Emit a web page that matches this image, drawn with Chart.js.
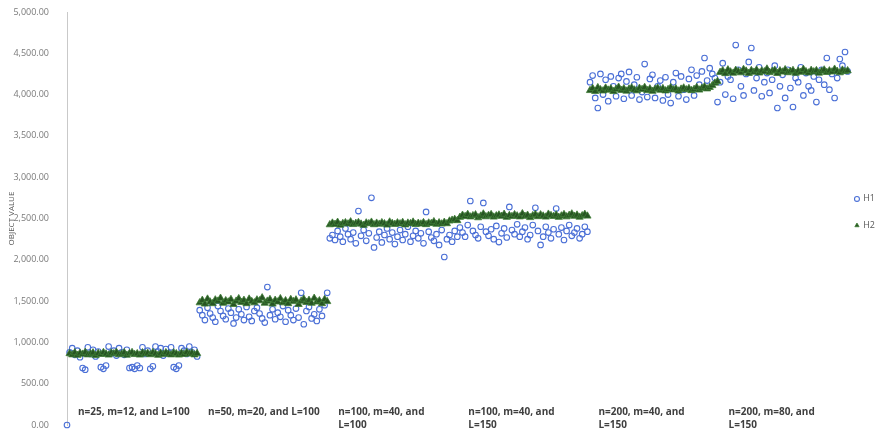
<!DOCTYPE html>
<html>
<head>
<meta charset="utf-8">
<title>Object value, H1 vs H2</title>
<script src="https://cdn.jsdelivr.net/npm/chart.js@4.4.0/dist/chart.umd.min.js"></script>
<style>
  html, body { margin: 0; padding: 0; background: #fff; }
  #wrap { width: 878px; height: 432px; position: relative; }
</style>
</head>
<body>
<div id="wrap"><canvas id="objChart"></canvas></div>
<script>
// Object value per run, two heuristics, six problem instances (50 runs each)
const instances = [
    ['n=25, m=12, and L=100'],
    ['n=50, m=20, and L=100'],
    ['n=100, m=40, and', 'L=100'],
    ['n=100, m=40, and', 'L=150'],
    ['n=200, m=40, and', 'L=150'],
    ['n=200, m=80, and', 'L=150']
];
const runsPerInstance = 50;

const yMin = 0;
const yMax = 5000;
const yStep = 500;

// H1 has one stray run at x = 0 with value 0
const h1First = 0;

const h1Inst1 = [880,930,850,900,820,690,670,940,860,910,830,890,700,680,720,950,870,900,840,930,
                 880,850,910,690,700,680,720,690,940,860,900,680,710,950,890,930,840,920,870,940,
                 700,680,720,930,900,860,950,880,910,830];
const h1Inst2 = [1390,1330,1270,1420,1350,1300,1250,1440,1380,1320,1280,1410,1360,1230,1300,1400,1340,1270,1430,1310,
                 1260,1380,1420,1350,1290,1240,1670,1330,1400,1280,1360,1310,1440,1250,1390,1330,1270,1410,1300,1600,
                 1220,1380,1430,1290,1340,1260,1400,1320,1450,1600];
const h1Inst3 = [2260,2300,2240,2350,2280,2220,2380,2310,2250,2330,2200,2590,2290,2360,2230,2320,2750,2150,2270,2340,
                 2210,2300,2380,2250,2330,2190,2280,2360,2240,2310,2400,2220,2290,2350,2260,2320,2200,2580,2340,2270,
                 2230,2310,2180,2360,2034,2250,2300,2220,2350,2280];
const h1Inst4 = [2390,2330,2280,2420,2712,2350,2300,2260,2400,2688,2340,2290,2370,2250,2410,2215,2320,2380,2270,2640,
                 2360,2310,2430,2280,2340,2390,2250,2300,2420,2630,2350,2180,2280,2400,2330,2260,2370,2620,2310,2390,
                 2240,2350,2420,2290,2330,2380,2260,2310,2400,2340];
const h1Inst5 = [4150,4230,3960,3838,4250,4000,4180,3920,4220,4100,3980,4200,4250,3950,4160,4274,3990,4120,4210,3940,
                 4030,4370,3970,4190,4240,3960,4100,4170,3930,4210,4000,3898,4150,4260,3980,4220,4060,3940,4190,4300,
                 3990,4230,4120,4280,4443,4170,4320,4250,4200,3910];
const h1Inst6 = [4150,4380,4000,4220,4180,3950,4600,4300,4100,3990,4250,4395,4564,4050,4200,4330,3980,4150,4260,4020,
                 4180,4350,3838,4100,4240,3960,4300,4080,3850,4200,4150,4330,3990,4260,4100,4050,4220,3910,4180,4300,
                 4120,4443,4060,4250,3959,4200,4431,4350,4516,4280];

const h2Inst1 = [865,850,875,845,870,858,880,850,862,874,842,868,855,878,860,848,872,863,880,852,
                 861,876,846,866,878,854,864,848,875,860,870,852,878,862,845,870,856,876,861,850,
                 874,864,848,870,855,880,860,872,850,866];
const h2Inst2 = [1480,1510,1465,1525,1490,1470,1515,1500,1535,1475,1505,1490,1520,1460,1500,1530,1485,1510,1470,1525,
                 1495,1480,1515,1505,1540,1475,1500,1520,1465,1510,1490,1530,1480,1505,1470,1520,1495,1515,1460,1500,
                 1525,1485,1510,1475,1535,1490,1505,1470,1520,1495];
const h2Inst3 = [2425,2445,2430,2455,2420,2440,2450,2435,2460,2428,2442,2452,2433,2418,2447,2438,2456,2426,2444,2432,
                 2450,2437,2422,2458,2441,2430,2448,2436,2453,2424,2445,2439,2457,2429,2443,2434,2451,2427,2446,2440,
                 2462,2431,2449,2435,2455,2438,2470,2480,2490,2475];
const h2Inst4 = [2515,2540,2525,2550,2520,2535,2545,2510,2530,2555,2522,2538,2548,2518,2533,2543,2528,2552,2515,2537,
                 2525,2547,2532,2520,2558,2527,2540,2512,2535,2550,2523,2545,2530,2518,2553,2536,2526,2544,2515,2532,
                 2549,2521,2539,2556,2528,2542,2517,2534,2551,2530];
const h2Inst5 = [4050,4075,4040,4085,4060,4045,4080,4055,4070,4038,4065,4090,4052,4072,4043,4068,4082,4057,4047,4077,
                 4063,4088,4050,4070,4041,4066,4079,4054,4073,4046,4062,4085,4058,4071,4044,4067,4081,4059,4074,4049,
                 4064,4087,4056,4078,4095,4070,4088,4110,4140,4160];
const h2Inst6 = [4270,4290,4255,4300,4275,4260,4295,4280,4265,4305,4285,4258,4292,4272,4298,4262,4287,4277,4310,4268,
                 4283,4296,4257,4289,4274,4302,4266,4281,4293,4259,4286,4271,4306,4278,4263,4294,4276,4291,4261,4284,
                 4299,4269,4288,4275,4308,4282,4265,4297,4279,4290];

const h1Blocks = [h1Inst1, h1Inst2, h1Inst3, h1Inst4, h1Inst5, h1Inst6];
const h2Blocks = [h2Inst1, h2Inst2, h2Inst3, h2Inst4, h2Inst5, h2Inst6];

// run number on x, value on y
function toPoints(blocks) {
    const pts = [];
    blocks.forEach((vals, g) => {
        vals.forEach((v, i) => pts.push({ x: g * runsPerInstance + i + 1, y: v }));
    });
    return pts;
}

const fmt = v => v.toLocaleString('en-US', { minimumFractionDigits: 2, maximumFractionDigits: 2 });

// instance captions sit just above the x = 0 line, under each block
const instanceLabels = {
    id: 'instanceLabels',
    afterDatasetsDraw(chart) {
        const { ctx, scales: { x, y } } = chart;
        ctx.save();
        ctx.font = 'bold 10px "Open Sans"';
        ctx.fillStyle = '#3f3f3f';
        ctx.textBaseline = 'middle';
        ctx.textAlign = 'left';
        instances.forEach((lines, g) => {
            const left = x.getPixelForValue(g * runsPerInstance) + 11;
            lines.forEach((line, k) => ctx.fillText(line, left, y.bottom - 13 + k * 13));
        });
        ctx.restore();
    }
};

const ctx = document.getElementById('objChart').getContext('2d');
const objChart = new Chart(ctx, {
    type: 'scatter',
    data: {
        datasets: [{
            label: 'H1',
            data: [{ x: 0, y: h1First }].concat(toPoints(h1Blocks)),
            pointStyle: 'circle',
            pointRadius: 2.8,
            borderWidth: 1.1,
            borderColor: '#4a6fd6',
            backgroundColor: 'rgba(0,0,0,0)',
            clip: false,
            order: 1
        }, {
            label: 'H2',
            data: toPoints(h2Blocks),
            pointStyle: 'triangle',
            pointRadius: 4.2,
            borderWidth: 0.8,
            borderColor: '#3f7d36',
            backgroundColor: '#275423',
            clip: false,
            order: 0
        }]
    },
    options: {
        responsive: true,
        maintainAspectRatio: false,
        animation: false,
        layout: { padding: { top: 12, bottom: 7, left: 0, right: -7 } },
        plugins: {
            legend: {
                position: 'right',
                labels: {
                    usePointStyle: true,
                    boxWidth: 3.5,
                    boxHeight: 3.5,
                    padding: 5,
                    color: '#595959',
                    font: { family: '"Open Sans"', size: 9 },
                    sort: (a, b) => a.datasetIndex - b.datasetIndex,
                    // blank second line gives the wide row gap of the original legend
                    generateLabels: chart => Chart.defaults.plugins.legend.labels.generateLabels(chart)
                        .map(item => Object.assign(item, { text: [item.text, ''] }))
                }
            },
            tooltip: { enabled: false }
        },
        scales: {
            x: {
                type: 'linear',
                min: 0,
                max: runsPerInstance * instances.length + 1,
                display: false
            },
            y: {
                min: yMin,
                max: yMax,
                afterFit: scale => {
                    scale.width = 67;
                    scale.paddingTop = 0;
                    scale.paddingBottom = 0;
                },
                ticks: {
                    stepSize: yStep,
                    padding: 10,
                    color: '#7a7a7a',
                    font: { family: '"Open Sans"', size: 9 },
                    callback: v => fmt(v)
                },
                grid: { display: false },
                border: { display: true, color: '#c9c9c9', dash: [2, 2], width: 1 },
                title: {
                    display: true,
                    text: 'OBJECT VALUE',
                    color: '#595959',
                    font: { family: '"Open Sans"', size: 8 },
                    padding: { top: 7, bottom: 0 }
                }
            }
        }
    },
    plugins: [instanceLabels]
});
</script>
</body>
</html>
